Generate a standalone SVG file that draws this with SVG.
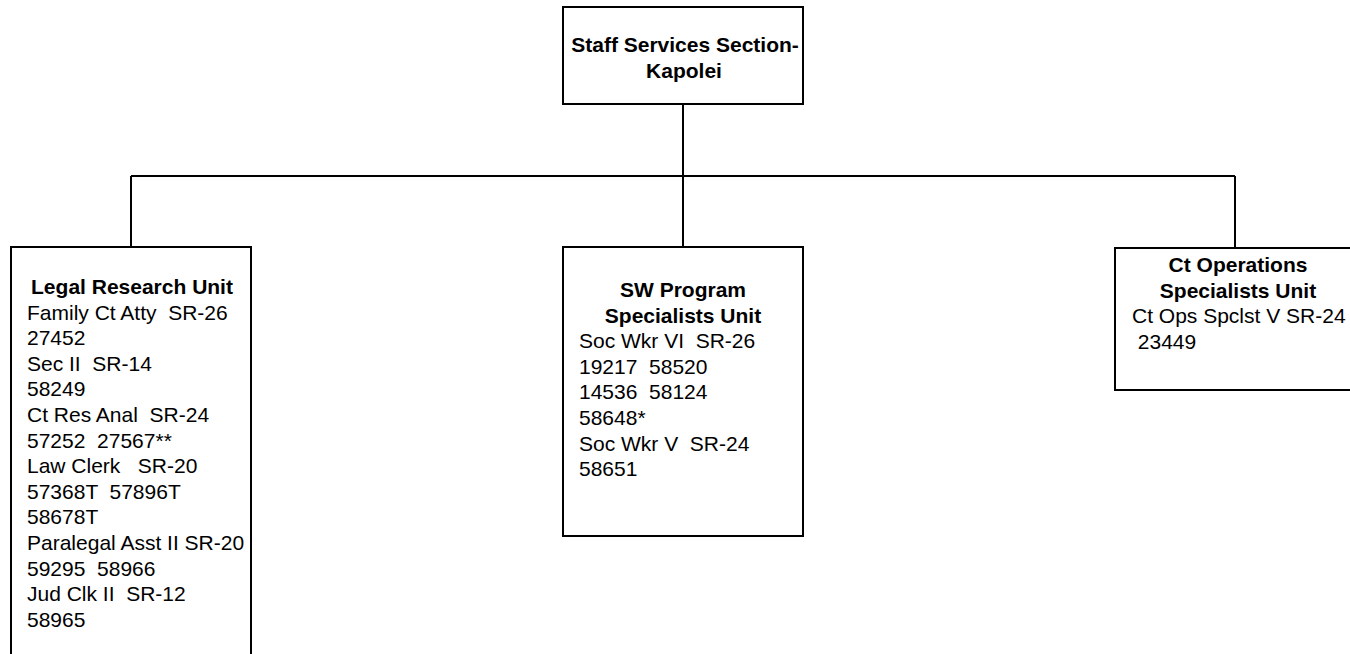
<svg xmlns="http://www.w3.org/2000/svg" width="1350" height="654" viewBox="0 0 1350 654" xml:space="preserve">
<style>
.box{fill:#fff;stroke:#000;stroke-width:2}
.ln{fill:none;stroke:#000;stroke-width:2}
text{font-family:"Liberation Sans",Arial,sans-serif;font-size:21px;fill:#000;white-space:pre}
.t{font-weight:bold;text-anchor:middle}
</style>
<rect width="1350" height="654" fill="#fff"/>
<g id="connectors">
<path class="ln" d="M683 104V247M131 176H1235M131 176V247M1235 176V248"/>
</g>
<g id="staff-services">
<rect class="box" x="563" y="7" width="240" height="97"/>
<text class="t" x="685" y="52">Staff Services Section-</text>
<text class="t" x="684" y="77.5">Kapolei</text>
</g>
<g id="legal-research">
<rect class="box" x="11" y="247" width="240" height="440"/>
<text class="t" x="132" y="294">Legal Research Unit</text>
<text x="27" y="319.6">Family Ct Atty  SR-26</text>
<text x="27" y="345.2">27452</text>
<text x="27" y="370.8">Sec II  SR-14</text>
<text x="27" y="396.4">58249</text>
<text x="27" y="422">Ct Res Anal  SR-24</text>
<text x="27" y="447.6">57252  27567**</text>
<text x="27" y="473.2">Law Clerk   SR-20</text>
<text x="27" y="498.8">57368T  57896T</text>
<text x="27" y="524.4">58678T</text>
<text x="27" y="550">Paralegal Asst II SR-20</text>
<text x="27" y="575.6">59295  58966</text>
<text x="27" y="601.2">Jud Clk II  SR-12</text>
<text x="27" y="626.8">58965</text>
</g>
<g id="sw-program">
<rect class="box" x="563" y="247" width="240" height="289"/>
<text class="t" x="683" y="297">SW Program</text>
<text class="t" x="683" y="322.6">Specialists Unit</text>
<text x="579" y="348.2">Soc Wkr VI  SR-26</text>
<text x="579" y="373.8">19217  58520</text>
<text x="579" y="399.4">14536  58124</text>
<text x="579" y="425">58648*</text>
<text x="579" y="450.6">Soc Wkr V  SR-24</text>
<text x="579" y="476.2">58651</text>
</g>
<g id="ct-operations">
<rect class="box" x="1115" y="248" width="246" height="142"/>
<text class="t" x="1238" y="272">Ct Operations</text>
<text class="t" x="1238" y="297.6">Specialists Unit</text>
<text x="1132" y="323.2">Ct Ops Spclst V SR-24</text>
<text x="1132" y="348.8"> 23449</text>
</g>
</svg>
